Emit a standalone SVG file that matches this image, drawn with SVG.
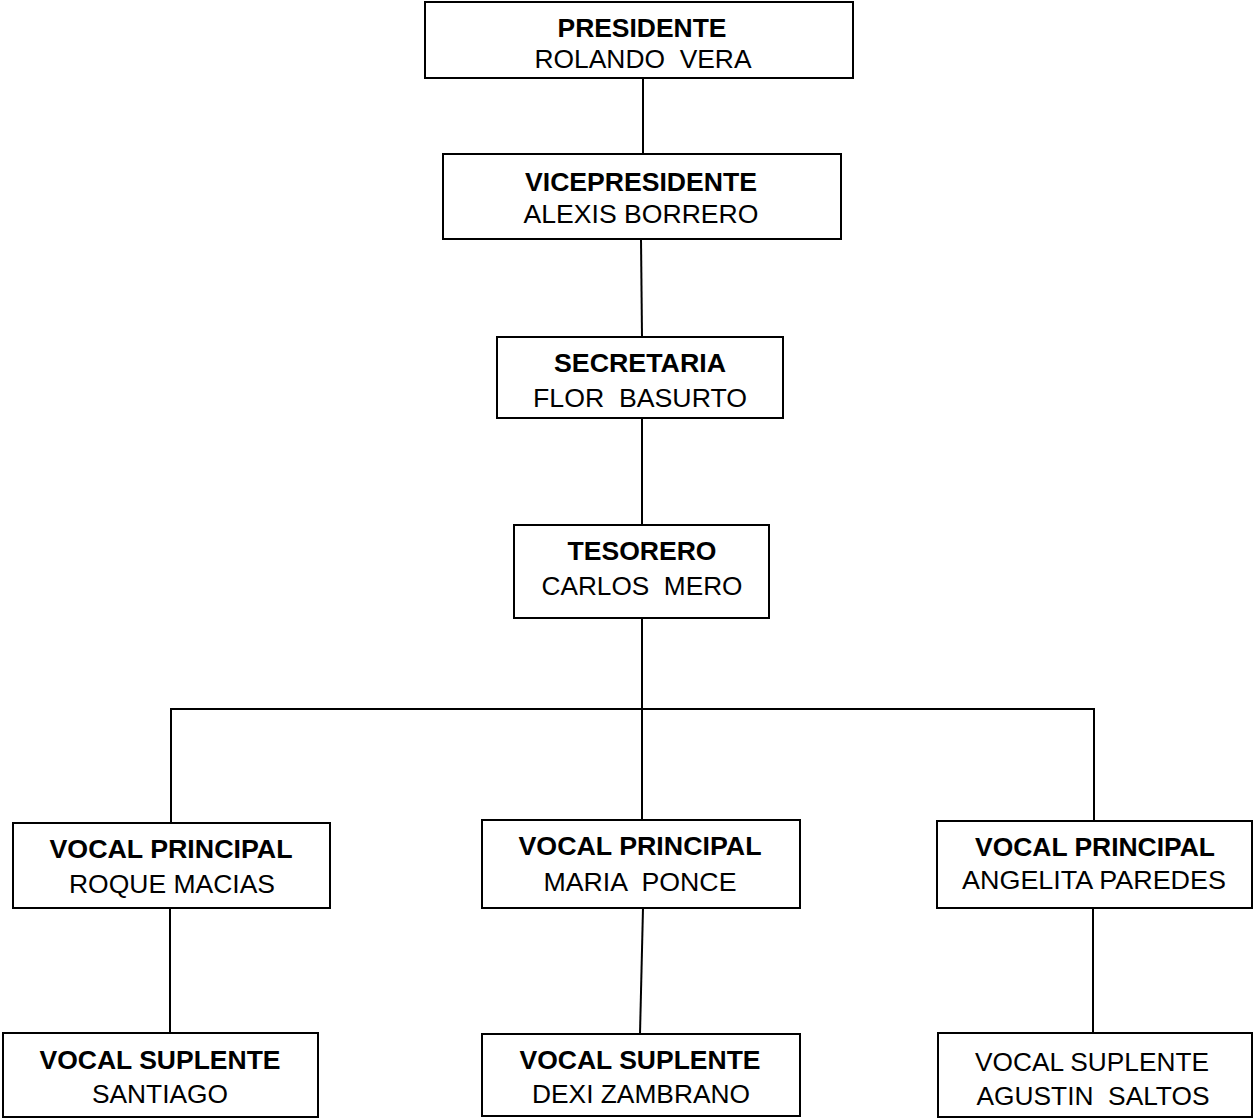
<svg xmlns="http://www.w3.org/2000/svg" width="1253" height="1119" viewBox="0 0 1253 1119">
<style>
.box{fill:#fff;stroke:#000;stroke-width:2}
.ln{fill:none;stroke:#000;stroke-width:2}
text{font-family:"Liberation Sans",Arial,sans-serif;font-size:26px;fill:#000;text-anchor:middle}
.b{font-weight:bold}
</style>
<rect width="1253" height="1119" fill="#fff"/>
<g id="connectors">
<line class="ln" x1="643" y1="78" x2="643" y2="154"/>
<line class="ln" x1="641" y1="239" x2="642" y2="337"/>
<line class="ln" x1="642" y1="418" x2="642" y2="525"/>
<line class="ln" x1="642" y1="618" x2="642" y2="709"/>
<polyline class="ln" points="171,823 171,709 1094,709 1094,821"/>
<line class="ln" x1="642" y1="709" x2="642" y2="820"/>
<line class="ln" x1="170" y1="908" x2="170" y2="1033"/>
<line class="ln" x1="643" y1="908" x2="640" y2="1034"/>
<line class="ln" x1="1093" y1="908" x2="1093" y2="1033"/>
</g>
<g id="presidente">
<rect class="box" x="425" y="2" width="428" height="76"/>
<text class="b" x="642" y="37" textLength="169" lengthAdjust="spacingAndGlyphs">PRESIDENTE</text>
<text x="643" y="68" textLength="217" lengthAdjust="spacingAndGlyphs" xml:space="preserve">ROLANDO  VERA</text>
</g>
<g id="vicepresidente">
<rect class="box" x="443" y="154" width="398" height="85"/>
<text class="b" x="641" y="191" textLength="232" lengthAdjust="spacingAndGlyphs">VICEPRESIDENTE</text>
<text x="641" y="223" textLength="235" lengthAdjust="spacingAndGlyphs">ALEXIS BORRERO</text>
</g>
<g id="secretaria">
<rect class="box" x="497" y="337" width="286" height="81"/>
<text class="b" x="640" y="372" textLength="172" lengthAdjust="spacingAndGlyphs">SECRETARIA</text>
<text x="640" y="407" textLength="214" lengthAdjust="spacingAndGlyphs" xml:space="preserve">FLOR  BASURTO</text>
</g>
<g id="tesorero">
<rect class="box" x="514" y="525" width="255" height="93"/>
<text class="b" x="642" y="560" textLength="149" lengthAdjust="spacingAndGlyphs">TESORERO</text>
<text x="642" y="595" textLength="201" lengthAdjust="spacingAndGlyphs" xml:space="preserve">CARLOS  MERO</text>
</g>
<g id="vocal-principal-1">
<rect class="box" x="13" y="823" width="317" height="85"/>
<text class="b" x="171" y="858" textLength="243" lengthAdjust="spacingAndGlyphs">VOCAL PRINCIPAL</text>
<text x="172" y="893" textLength="206" lengthAdjust="spacingAndGlyphs">ROQUE MACIAS</text>
</g>
<g id="vocal-principal-2">
<rect class="box" x="482" y="820" width="318" height="88"/>
<text class="b" x="640" y="855" textLength="243" lengthAdjust="spacingAndGlyphs">VOCAL PRINCIPAL</text>
<text x="640" y="891" textLength="193" lengthAdjust="spacingAndGlyphs" xml:space="preserve">MARIA  PONCE</text>
</g>
<g id="vocal-principal-3">
<rect class="box" x="937" y="821" width="315" height="87"/>
<text class="b" x="1095" y="856" textLength="240" lengthAdjust="spacingAndGlyphs">VOCAL PRINCIPAL</text>
<text x="1094" y="889" textLength="264" lengthAdjust="spacingAndGlyphs">ANGELITA PAREDES</text>
</g>
<g id="vocal-suplente-1">
<rect class="box" x="3" y="1033" width="315" height="84"/>
<text class="b" x="160" y="1069" textLength="241" lengthAdjust="spacingAndGlyphs">VOCAL SUPLENTE</text>
<text x="160" y="1103" textLength="136" lengthAdjust="spacingAndGlyphs">SANTIAGO</text>
</g>
<g id="vocal-suplente-2">
<rect class="box" x="482" y="1034" width="318" height="82"/>
<text class="b" x="640" y="1069" textLength="241" lengthAdjust="spacingAndGlyphs">VOCAL SUPLENTE</text>
<text x="641" y="1103" textLength="218" lengthAdjust="spacingAndGlyphs">DEXI ZAMBRANO</text>
</g>
<g id="vocal-suplente-3">
<rect class="box" x="938" y="1033" width="314" height="84"/>
<text x="1092" y="1071" textLength="234" lengthAdjust="spacingAndGlyphs">VOCAL SUPLENTE</text>
<text x="1093" y="1105" textLength="233" lengthAdjust="spacingAndGlyphs" xml:space="preserve">AGUSTIN  SALTOS</text>
</g>
</svg>
